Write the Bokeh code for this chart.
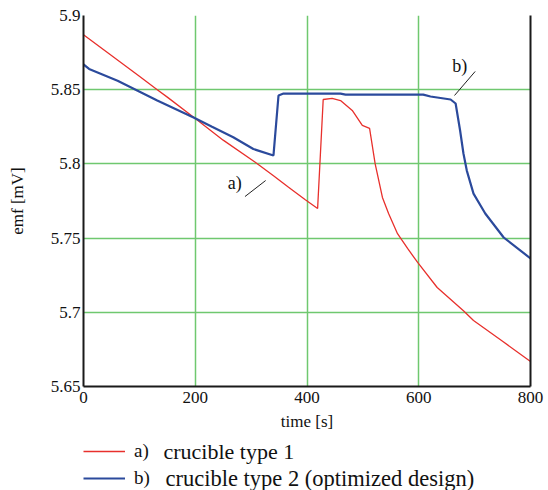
from bokeh.plotting import figure
from bokeh.models import (Legend, LegendItem, LinearAxis, FixedTicker, Label)
from bokeh.layouts import column
from bokeh.embed import file_html
from bokeh.resources import INLINE

# ---- data ----
t_a = [0, 50, 100, 132, 150, 200, 250, 308, 340, 367, 397, 419,
       429, 445, 460, 481, 499, 512, 522, 535, 546, 562, 580, 598,
       633, 680, 698, 750, 800]
emf_a = [5.887, 5.873, 5.859, 5.850, 5.845, 5.8306, 5.816, 5.801, 5.792,
         5.7843, 5.7758, 5.770, 5.8434, 5.8441, 5.8427, 5.836, 5.8259,
         5.8239, 5.800, 5.7774, 5.7666, 5.753, 5.743, 5.7336, 5.7167,
         5.701, 5.6945, 5.6805, 5.6668]

t_b = [0, 10, 61, 132, 197, 230, 268, 304, 340, 349, 358, 460, 469,
       608, 621, 657, 666, 674, 680, 686, 698, 719, 752, 800]
emf_b = [5.867, 5.864, 5.856, 5.8427, 5.8313, 5.825, 5.818, 5.810, 5.8057,
         5.8461, 5.8474, 5.8474, 5.8467, 5.8467, 5.8454, 5.8434, 5.8407,
         5.8225, 5.807, 5.7955, 5.780, 5.7666, 5.7504, 5.7363]

x_ticks = [0, 200, 400, 600, 800]
y_ticks = [5.65, 5.7, 5.75, 5.8, 5.85, 5.9]
y_tick_labels = ["5.65", "5.7", "5.75", "5.8", "5.85", "5.9"]

series_tags = ["a)", "b)"]
series_names = ["crucible type 1", "crucible type 2 (optimized design)"]

# annotation placement (not data)
ANN_A_TEXT = (258, 5.7805)
ANN_A_LINE = (289, 5.778, 326, 5.7888)
ANN_B_TEXT = (660, 5.8595)
ANN_B_LINE = (664, 5.8461, 701, 5.8623)

RED = "#e8302c"
BLUE = "#2b4a9c"
GREEN = "#6fc86f"
AXIS = "#1a1a1a"
TEXT = "#111111"
FONT = "Liberation Serif"

p = figure(width=548, height=440, x_range=(0, 800), y_range=(5.65, 5.9),
           output_backend="svg", toolbar_location=None,
           min_border_left=83, min_border_right=18, min_border_top=15,
           min_border_bottom=54)
p.outline_line_color = None
p.background_fill_color = "white"

r_a = p.line(t_a, emf_a, line_color=RED, line_width=1.3)
r_b = p.line(t_b, emf_b, line_color=BLUE, line_width=2.2)

for ax in (p.xaxis[0], p.yaxis[0]):
    ax.axis_line_color = AXIS
    ax.axis_line_width = 2
    ax.major_tick_in = 0
    ax.major_tick_out = 0
    ax.minor_tick_line_color = None
    ax.major_label_text_font = FONT
    ax.major_label_text_font_size = "17px"
    ax.major_label_text_color = TEXT
    ax.axis_label_text_font = FONT
    ax.axis_label_text_font_size = "17px"
    ax.axis_label_text_font_style = "normal"
    ax.axis_label_text_color = TEXT

p.xaxis[0].ticker = FixedTicker(ticks=x_ticks)
p.yaxis[0].ticker = FixedTicker(ticks=y_ticks)
p.yaxis[0].major_label_overrides = {v: s for v, s in zip(y_ticks, y_tick_labels)}
p.xaxis[0].axis_label = "time [s]"
p.yaxis[0].axis_label = "emf [mV]"
p.xaxis[0].major_label_standoff = 5
p.yaxis[0].major_label_standoff = 3
p.xaxis[0].axis_label_standoff = 6
p.yaxis[0].axis_label_standoff = 21

right = LinearAxis(ticker=FixedTicker(ticks=[]), axis_line_color=AXIS,
                   axis_line_width=2, major_tick_in=0, major_tick_out=0,
                   minor_tick_line_color=None, major_label_text_font_size="0px")
p.add_layout(right, "right")

p.xgrid.ticker = FixedTicker(ticks=x_ticks)
p.ygrid.ticker = FixedTicker(ticks=y_ticks)
p.xgrid.grid_line_color = GREEN
p.ygrid.grid_line_color = GREEN
p.xgrid.grid_line_width = 1.5
p.ygrid.grid_line_width = 1.3

# annotations a) and b)
p.add_layout(Label(x=ANN_A_TEXT[0], y=ANN_A_TEXT[1], text=series_tags[0],
                   text_font=FONT, text_font_size="18px", text_color=TEXT))
p.add_layout(Label(x=ANN_B_TEXT[0], y=ANN_B_TEXT[1], text=series_tags[1],
                   text_font=FONT, text_font_size="18px", text_color=TEXT))
p.segment(x0=[ANN_A_LINE[0], ANN_B_LINE[0]], y0=[ANN_A_LINE[1], ANN_B_LINE[1]],
          x1=[ANN_A_LINE[2], ANN_B_LINE[2]], y1=[ANN_A_LINE[3], ANN_B_LINE[3]],
          line_color="#222222", line_width=1)

# ---- legend strip below the chart (frame aligned with the chart frame) ----
p2 = figure(width=548, height=50, x_range=(83, 530), y_range=(-50, 0),
            output_backend="svg", toolbar_location=None,
            x_axis_type=None, y_axis_type=None,
            min_border_left=83, min_border_right=18, min_border_top=0,
            min_border_bottom=0)
p2.outline_line_color = None
p2.xgrid.visible = False
p2.ygrid.visible = False
# same series, drawn out of this strip's view: they only feed the legend swatches
l_a = p2.line(t_a, emf_a, line_color=RED, line_width=1.6)
l_b = p2.line(t_b, emf_b, line_color=BLUE, line_width=2.2)

legend = Legend(items=[LegendItem(label=series_tags[0], renderers=[l_a]),
                       LegendItem(label=series_tags[1], renderers=[l_b])],
                location=(0, 1), orientation="vertical")
legend.border_line_color = None
legend.background_fill_alpha = 0
legend.label_text_font = FONT
legend.label_text_font_size = "19px"
legend.label_text_color = TEXT
legend.glyph_width = 42
legend.glyph_height = 22
legend.label_height = 22
legend.spacing = 5
legend.padding = 0
legend.margin = 0
legend.label_standoff = 9
p2.add_layout(legend, "center")

p2.add_layout(Label(x=163, y=-11, text=series_names[0], text_font=FONT,
                    text_font_size="22px", text_color=TEXT,
                    text_baseline="middle"))
p2.add_layout(Label(x=165, y=-37.5, text=series_names[1], text_font=FONT,
                    text_font_size="22.5px", text_color=TEXT,
                    text_baseline="middle"))

layout = column(p, p2, spacing=0)
open("out.html", "w").write(file_html(layout, INLINE))
